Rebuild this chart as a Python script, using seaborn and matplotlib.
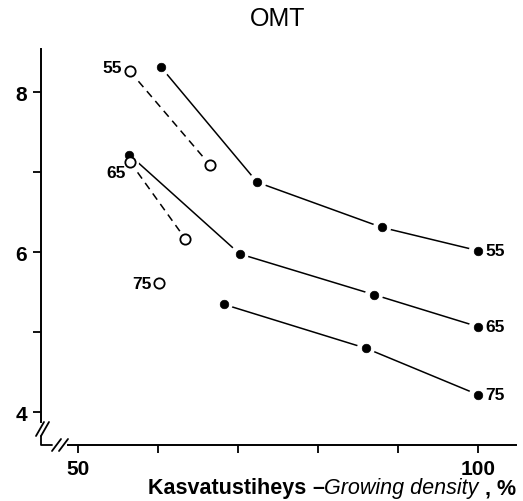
import matplotlib
matplotlib.use("Agg")
import matplotlib.pyplot as plt
import seaborn as sns
import pandas as pd

# Mean height development by stand age (55, 65, 75 years) on OMT sites
solid_55_x = [60.4, 72.4, 88.0, 100.0]
solid_55_y = [8.31, 6.875, 6.31, 6.02]
solid_65_x = [56.4, 70.2, 87.0, 100.0]
solid_65_y = [7.22, 5.98, 5.47, 5.07]
solid_75_x = [68.2, 86.0, 100.0]
solid_75_y = [5.35, 4.80, 4.22]

open_55_x = [56.5, 66.5]
open_55_y = [8.26, 7.09]
open_65_x = [56.5, 63.4]
open_65_y = [7.13, 6.17]
open_75_x = [60.1]
open_75_y = [5.61]

ages = ["55", "65", "75"]
x_ticks = [50, 60, 70, 80, 90, 100]
x_ticklabels = ["50", "", "", "", "", "100"]
y_ticks = [4, 5, 6, 7, 8]
y_ticklabels = ["4", "", "6", "", "8"]

sns.set_theme(style="white")
plt.rcParams["font.family"] = ["Liberation Sans", "DejaVu Sans"]

fig = plt.figure(figsize=(5.23, 5.02), dpi=100)
ax = fig.add_axes([41 / 523, 1 - 445.7 / 502, 475 / 523, 395.7 / 502])

solid = [(solid_55_x, solid_55_y), (solid_65_x, solid_65_y), (solid_75_x, solid_75_y)]
opened = [(open_55_x, open_55_y), (open_65_x, open_65_y), (open_75_x, open_75_y)]

for (xs, ys) in solid:
    df = pd.DataFrame({"x": xs, "y": ys})
    sns.lineplot(data=df, x="x", y="y", ax=ax, color="black", lw=1.1,
                 sort=False, estimator=None, zorder=1)
for (xs, ys) in opened:
    df = pd.DataFrame({"x": xs, "y": ys})
    if len(df) > 1:
        sns.lineplot(data=df, x="x", y="y", ax=ax, color="black", lw=1.1,
                     sort=False, estimator=None, zorder=1,
                     linestyle=(0, (5, 3.5)))

# white halo so lines stop short of the markers
for (xs, ys) in solid + opened:
    df = pd.DataFrame({"x": xs, "y": ys})
    sns.scatterplot(data=df, x="x", y="y", ax=ax, s=170, color="white",
                    edgecolor="none", zorder=2)
for (xs, ys) in solid:
    df = pd.DataFrame({"x": xs, "y": ys})
    sns.scatterplot(data=df, x="x", y="y", ax=ax, s=38, color="black",
                    edgecolor="black", zorder=3)
for (xs, ys) in opened:
    df = pd.DataFrame({"x": xs, "y": ys})
    sns.scatterplot(data=df, x="x", y="y", ax=ax, s=55, facecolor="white",
                    edgecolor="black", linewidth=1.3, zorder=3)

# age labels
lab_kw = dict(textcoords="offset points", fontsize=12.5, fontweight="bold",
              color="black", va="center")
left_offsets = [(-6, 3), (-3, -8), (-5, 0)]
for age, (xs, ys), off in zip(ages, opened, left_offsets):
    ax.annotate(age, (xs[0], ys[0]), xytext=off, ha="right", **lab_kw)
for age, (xs, ys) in zip(ages, solid):
    ax.annotate(age, (xs[-1], ys[-1]), xytext=(5, 0), ha="left", **lab_kw)

ax.set_xlim(45.375, 104.75)
ax.set_ylim(3.595, 8.54)
ax.set_xticks(x_ticks)
ax.set_xticklabels(x_ticklabels)
ax.set_yticks(y_ticks)
ax.set_yticklabels(y_ticklabels)
ax.tick_params(axis="both", which="major", bottom=True, left=True,
               direction="out", length=6, width=1.3,
               colors="black", labelsize=15, pad=4)
for lbl in ax.get_xticklabels() + ax.get_yticklabels():
    lbl.set_fontweight("bold")
ax.set_xlabel("")
ax.set_ylabel("")

for side in ["top", "right"]:
    ax.spines[side].set_visible(False)
for side in ["left", "bottom"]:
    ax.spines[side].set_linewidth(1.4)
    ax.spines[side].set_color("black")
ax.spines["left"].set_bounds(3.88, 8.54)
ax.spines["bottom"].set_bounds(48.75, 104.75)

# axis break marks (axes fraction coordinates)
tr = ax.transAxes
W, H = 475.0, 395.7
def px(xp, yp):
    return (xp - 41) / W, (445.7 - yp) / H
brk = dict(transform=tr, color="black", lw=1.3, clip_on=False)
ax.plot(*zip(px(41, 437), px(41, 445.7), px(52, 445.7)), **brk)
for dx in (0, 5):
    ax.plot(*zip(px(36 + dx, 437), px(44 + dx, 423)), **brk)
for dx in (0, 7):
    ax.plot(*zip(px(52 + dx, 452), px(61 + dx, 440)), **brk)

fig.text(278 / 523, 1 - 19 / 502, "OMT", ha="center", va="center",
         fontsize=18, fontweight="medium", color="black")

# x label built from bold and italic pieces
fig.canvas.draw()
renderer = fig.canvas.get_renderer()
pieces = [("Kasvatustiheys ", "bold", "normal"),
          ("\u2013", "bold", "normal"),
          ("Growing density", "normal", "italic"),
          (" , %", "bold", "normal")]
x0 = 148 / 523
y0 = 1 - 489 / 502
cur = x0
for txt, wt, st in pieces:
    t = fig.text(cur, y0, txt, fontsize=15.5, fontweight=wt, fontstyle=st,
                 ha="left", va="center", color="black")
    bb = t.get_window_extent(renderer=renderer)
    cur += bb.width / fig.bbox.width

fig.savefig("out.png", dpi=100)
